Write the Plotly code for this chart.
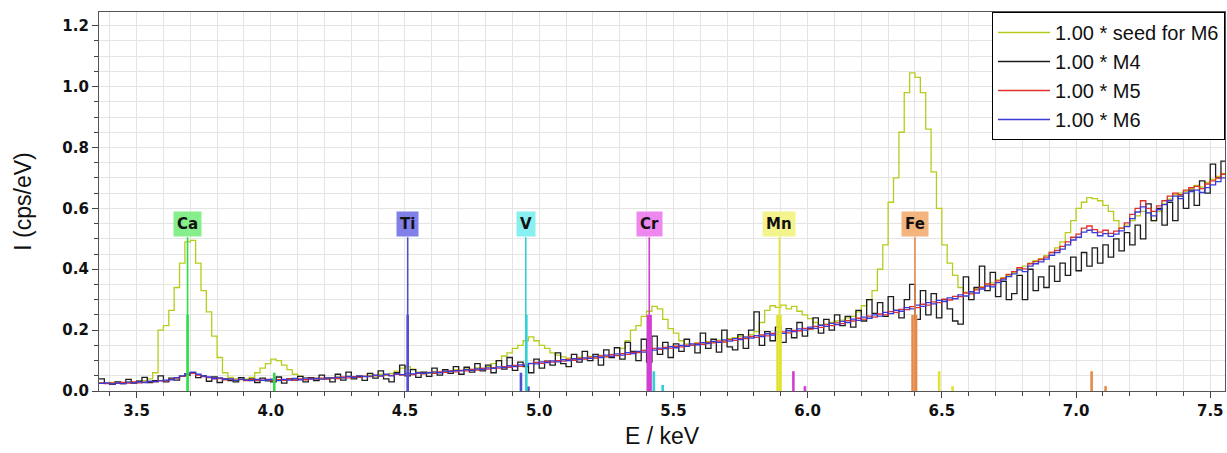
import numpy as np
import plotly.graph_objects as go

# ---------------- data ----------------
E_START = 3.36
BIN = 0.02
N_BINS = 210

seed_m6 = [
    0.026, 0.025, 0.028, 0.026, 0.027, 0.030, 0.029, 0.032, 0.034, 0.040,
    0.060, 0.200, 0.215, 0.265, 0.340, 0.420, 0.490, 0.495, 0.420, 0.330,
    0.260, 0.180, 0.110, 0.060, 0.045, 0.040, 0.037, 0.039, 0.045, 0.060,
    0.075, 0.090, 0.105, 0.100, 0.085, 0.070, 0.055, 0.048, 0.044, 0.040,
    0.042, 0.038, 0.044, 0.041, 0.046, 0.043, 0.048, 0.046, 0.050, 0.048,
    0.052, 0.049, 0.055, 0.052, 0.058, 0.065, 0.075, 0.080, 0.072, 0.062,
    0.060, 0.058, 0.064, 0.061, 0.067, 0.064, 0.070, 0.068, 0.073, 0.071,
    0.076, 0.074, 0.080, 0.090, 0.100, 0.115, 0.125, 0.140, 0.150, 0.165,
    0.178, 0.165, 0.150, 0.140, 0.125, 0.118, 0.112, 0.108, 0.104, 0.110,
    0.108, 0.114, 0.110, 0.117, 0.113, 0.120, 0.118, 0.140, 0.165, 0.200,
    0.215, 0.245, 0.262, 0.278, 0.270, 0.235, 0.205, 0.190, 0.165, 0.155,
    0.150, 0.158, 0.155, 0.162, 0.160, 0.167, 0.165, 0.172, 0.175, 0.180,
    0.178, 0.185, 0.195, 0.225, 0.265, 0.280, 0.275, 0.282, 0.270, 0.278,
    0.262, 0.250, 0.238, 0.225, 0.218, 0.220, 0.225, 0.230, 0.233, 0.240,
    0.245, 0.260, 0.280, 0.300, 0.330, 0.400, 0.480, 0.620, 0.700, 0.850,
    0.980, 1.045, 1.030, 0.980, 0.860, 0.720, 0.600, 0.480, 0.420, 0.380,
    0.340, 0.325, 0.322, 0.335, 0.342, 0.350, 0.355, 0.365, 0.372, 0.380,
    0.390, 0.402, 0.410, 0.420, 0.428, 0.435, 0.445, 0.455, 0.470, 0.490,
    0.520, 0.560, 0.600, 0.620, 0.635, 0.632, 0.625, 0.610, 0.590, 0.560,
    0.535, 0.545, 0.560, 0.575, 0.590, 0.585, 0.560, 0.590, 0.615, 0.630,
    0.645, 0.650, 0.655, 0.665, 0.675, 0.670, 0.685, 0.695, 0.705, 0.715,
]

m4 = [
    0.040, 0.025, 0.022, 0.030, 0.024, 0.038, 0.026, 0.032, 0.045, 0.028,
    0.034, 0.050, 0.030, 0.042, 0.036, 0.048, 0.052, 0.060, 0.044, 0.050,
    0.032, 0.046, 0.028, 0.040, 0.034, 0.030, 0.044, 0.036, 0.040, 0.028,
    0.042, 0.033, 0.030, 0.046, 0.026, 0.040, 0.036, 0.048, 0.030, 0.044,
    0.034, 0.052, 0.040, 0.030, 0.055, 0.036, 0.062, 0.040, 0.048, 0.035,
    0.058, 0.042, 0.066, 0.040, 0.030, 0.060, 0.085, 0.050, 0.070, 0.045,
    0.062, 0.048, 0.075, 0.052, 0.070, 0.058, 0.080, 0.055, 0.078, 0.062,
    0.090, 0.066, 0.085, 0.060, 0.100, 0.072, 0.110, 0.068, 0.095, 0.080,
    0.060, 0.105, 0.075, 0.098, 0.085, 0.125, 0.090, 0.080, 0.120, 0.095,
    0.130, 0.100, 0.120, 0.085, 0.135, 0.110, 0.142, 0.105, 0.160, 0.130,
    0.100, 0.170, 0.095, 0.180, 0.120, 0.160, 0.110, 0.155, 0.130, 0.170,
    0.150, 0.125, 0.190, 0.140, 0.170, 0.128, 0.200, 0.145, 0.135, 0.185,
    0.140, 0.200, 0.260, 0.150, 0.195, 0.165, 0.210, 0.160, 0.205, 0.175,
    0.225, 0.180, 0.205, 0.240, 0.190, 0.235, 0.200, 0.250, 0.215, 0.245,
    0.210, 0.265, 0.230, 0.300, 0.255, 0.290, 0.245, 0.310, 0.265, 0.240,
    0.300, 0.350, 0.235, 0.330, 0.250, 0.320, 0.240, 0.300, 0.270, 0.230,
    0.220, 0.375, 0.300, 0.340, 0.410, 0.330, 0.390, 0.310, 0.360, 0.300,
    0.320, 0.380, 0.300, 0.400, 0.330, 0.375, 0.340, 0.410, 0.360, 0.420,
    0.380, 0.440, 0.395, 0.455, 0.410, 0.470, 0.420, 0.480, 0.440, 0.500,
    0.460, 0.520, 0.480, 0.545, 0.500, 0.615, 0.560, 0.600, 0.545, 0.620,
    0.560, 0.640, 0.600, 0.660, 0.610, 0.690, 0.650, 0.745, 0.700, 0.755,
]

m5 = [
    0.027, 0.024, 0.026, 0.025, 0.028, 0.026, 0.030, 0.027, 0.029, 0.031,
    0.030, 0.034, 0.033, 0.038, 0.042, 0.048, 0.055, 0.058, 0.052, 0.047,
    0.044, 0.040, 0.041, 0.037, 0.039, 0.036, 0.038, 0.034, 0.037, 0.035,
    0.036, 0.038, 0.034, 0.037, 0.035, 0.039, 0.036, 0.040, 0.037, 0.041,
    0.039, 0.042, 0.040, 0.044, 0.041, 0.046, 0.043, 0.047, 0.045, 0.049,
    0.047, 0.051, 0.049, 0.053, 0.051, 0.055, 0.052, 0.057, 0.054, 0.058,
    0.056, 0.061, 0.058, 0.063, 0.061, 0.066, 0.063, 0.068, 0.066, 0.071,
    0.069, 0.074, 0.072, 0.077, 0.075, 0.080, 0.078, 0.084, 0.081, 0.088,
    0.090, 0.094, 0.091, 0.097, 0.095, 0.100, 0.098, 0.104, 0.101, 0.107,
    0.105, 0.111, 0.108, 0.115, 0.112, 0.119, 0.116, 0.123, 0.120, 0.127,
    0.126, 0.133, 0.136, 0.140, 0.137, 0.143, 0.141, 0.147, 0.145, 0.151,
    0.150, 0.156, 0.153, 0.160, 0.158, 0.164, 0.161, 0.169, 0.166, 0.173,
    0.172, 0.179, 0.176, 0.184, 0.181, 0.189, 0.186, 0.194, 0.191, 0.199,
    0.198, 0.206, 0.203, 0.212, 0.209, 0.218, 0.215, 0.224, 0.221, 0.231,
    0.230, 0.239, 0.236, 0.246, 0.243, 0.253, 0.250, 0.261, 0.258, 0.268,
    0.267, 0.277, 0.274, 0.285, 0.282, 0.293, 0.290, 0.302, 0.299, 0.311,
    0.310, 0.322, 0.319, 0.332, 0.340, 0.352, 0.349, 0.362, 0.370, 0.383,
    0.392, 0.405, 0.401, 0.418, 0.425, 0.432, 0.440, 0.455, 0.462, 0.475,
    0.490, 0.505, 0.515, 0.535, 0.542, 0.530, 0.522, 0.528, 0.518, 0.525,
    0.535, 0.552, 0.580, 0.600, 0.625, 0.600, 0.590, 0.608, 0.625, 0.640,
    0.650, 0.645, 0.660, 0.668, 0.672, 0.665, 0.680, 0.690, 0.700, 0.712,
]

m6 = [
    0.025, 0.027, 0.023, 0.026, 0.024, 0.029, 0.027, 0.030, 0.028, 0.032,
    0.031, 0.033, 0.036, 0.037, 0.044, 0.050, 0.057, 0.062, 0.055, 0.049,
    0.046, 0.041, 0.043, 0.038, 0.040, 0.035, 0.039, 0.036, 0.034, 0.038,
    0.035, 0.037, 0.039, 0.034, 0.038, 0.036, 0.041, 0.037, 0.042, 0.039,
    0.041, 0.039, 0.043, 0.042, 0.045, 0.043, 0.048, 0.045, 0.050, 0.047,
    0.049, 0.052, 0.050, 0.055, 0.050, 0.056, 0.054, 0.058, 0.056, 0.060,
    0.058, 0.060, 0.062, 0.060, 0.065, 0.064, 0.067, 0.066, 0.070, 0.068,
    0.073, 0.071, 0.076, 0.074, 0.079, 0.077, 0.083, 0.080, 0.086, 0.084,
    0.091, 0.089, 0.096, 0.093, 0.099, 0.096, 0.103, 0.100, 0.106, 0.103,
    0.109, 0.107, 0.114, 0.110, 0.118, 0.114, 0.122, 0.118, 0.126, 0.123,
    0.130, 0.128, 0.138, 0.134, 0.141, 0.139, 0.146, 0.142, 0.150, 0.147,
    0.155, 0.152, 0.159, 0.156, 0.163, 0.160, 0.168, 0.164, 0.172, 0.169,
    0.177, 0.174, 0.182, 0.179, 0.188, 0.184, 0.193, 0.189, 0.198, 0.195,
    0.204, 0.200, 0.210, 0.206, 0.216, 0.212, 0.222, 0.218, 0.229, 0.225,
    0.236, 0.232, 0.243, 0.239, 0.250, 0.246, 0.258, 0.254, 0.265, 0.262,
    0.274, 0.270, 0.282, 0.278, 0.290, 0.286, 0.298, 0.294, 0.306, 0.303,
    0.316, 0.312, 0.326, 0.322, 0.335, 0.345, 0.342, 0.356, 0.365, 0.376,
    0.385, 0.398, 0.392, 0.410, 0.418, 0.424, 0.433, 0.446, 0.455, 0.466,
    0.480, 0.496, 0.505, 0.522, 0.528, 0.520, 0.510, 0.517, 0.508, 0.515,
    0.526, 0.540, 0.566, 0.588, 0.605, 0.585, 0.575, 0.596, 0.612, 0.626,
    0.640, 0.632, 0.650, 0.655, 0.660, 0.652, 0.668, 0.677, 0.688, 0.700,
]

series_names = ["1.00 * seed for M6", "1.00 * M4", "1.00 * M5", "1.00 * M6"]
series_values = [seed_m6, m4, m5, m6]
series_colors = ["#b9cc1e", "#1e1e1e", "#e0302c", "#3a3ad8"]

# element label markers (K-alpha energy)
elements = ["Ca", "Ti", "V", "Cr", "Mn", "Fe"]
element_energy = [3.69, 4.51, 4.95, 5.41, 5.895, 6.40]
element_line_color = ["#2ee046", "#4f4fd0", "#30d0d8", "#d23ed2", "#e2e232", "#e48a48"]
element_label_color = ["#86ee8a", "#8080e8", "#88f0f0", "#ee88ee", "#f4f48c", "#f4b47e"]
label_height = 0.55
marker_top = 0.505

# emission lines: energy, intensity, element index
line_energy = [3.69, 4.013, 4.51, 4.932, 4.96, 4.952, 5.427, 5.46,
               5.405, 5.415, 5.947, 5.99, 5.888, 5.899, 6.49, 6.54,
               6.391, 6.404, 7.058, 7.11]
line_height = [0.25, 0.06, 0.25, 0.06, 0.015, 0.25, 0.065, 0.02,
               0.25, 0.25, 0.065, 0.016, 0.25, 0.25, 0.065, 0.016,
               0.25, 0.25, 0.065, 0.016]
line_element = [0, 0, 1, 1, 1, 2, 2, 2,
                3, 3, 3, 3, 4, 4, 4, 4,
                5, 5, 5, 5]

# ---------------- figure ----------------
edges = np.round(E_START + BIN * np.arange(N_BINS + 1), 3)

fig = go.Figure()
for name, vals, col in zip(series_names, series_values, series_colors):
    yv = list(vals) + [vals[-1]]
    fig.add_trace(go.Scatter(
        x=edges, y=yv, mode="lines", name=name,
        line=dict(color=col, width=1.3, shape="hv"),
    ))

# thin marker lines up to label
for i, e in enumerate(element_energy):
    fig.add_trace(go.Scatter(
        x=[e, e], y=[0, marker_top], mode="lines", showlegend=False,
        line=dict(color=element_line_color[i], width=1.6), hoverinfo="skip",
    ))

# emission lines (thicker)
for e, h, k in zip(line_energy, line_height, line_element):
    fig.add_trace(go.Scatter(
        x=[e, e], y=[0, h], mode="lines", showlegend=False,
        line=dict(color=element_line_color[k], width=2.6), hoverinfo="skip",
    ))

for i, (el, e) in enumerate(zip(elements, element_energy)):
    fig.add_annotation(
        x=e, y=label_height, text="<b>%s</b>" % el, showarrow=False,
        font=dict(family="DejaVu Sans", size=15, color="#111111"),
        bgcolor=element_label_color[i], borderpad=3,
    )

grid_col = "#e4e4e4"
fig.update_layout(
    width=1227, height=453,
    margin=dict(l=99, r=2, t=12, b=62),
    plot_bgcolor="white", paper_bgcolor="white",
    showlegend=True,
    legend=dict(
        x=1, y=1, xanchor="right", yanchor="top",
        bgcolor="white", bordercolor="#000000", borderwidth=1,
        font=dict(family="Liberation Sans", size=20, color="#111111"),
        tracegroupgap=0, itemwidth=52,
    ),
    xaxis=dict(
        range=[3.36, 7.555], dtick=0.5, tick0=3.5,
        showgrid=True, gridcolor=grid_col, gridwidth=1,
        ticks="outside", ticklen=6, tickcolor="#444",
        showline=True, linecolor="#555", linewidth=1.2, mirror=True,
        tickfont=dict(family="DejaVu Sans", size=15, color="#111", weight="bold"),
        tickformat=".1f",
        minor=dict(dtick=0.1, tick0=3.5, showgrid=True, gridcolor=grid_col,
                   ticks="outside", ticklen=4, tickcolor="#444"),
        title=dict(text="E / keV", font=dict(family="Liberation Sans", size=23, color="#111"),
                   standoff=8),
        zeroline=False,
    ),
    yaxis=dict(
        range=[0, 1.245], dtick=0.2, tick0=0,
        showgrid=True, gridcolor=grid_col, gridwidth=1,
        ticks="outside", ticklen=6, tickcolor="#444",
        showline=True, linecolor="#555", linewidth=1.2, mirror=True,
        tickfont=dict(family="DejaVu Sans", size=15, color="#111", weight="bold"),
        tickformat=".1f",
        minor=dict(dtick=0.05, tick0=0, showgrid=True, gridcolor=grid_col,
                   ticks="outside", ticklen=4, tickcolor="#444"),
        title=dict(text="I (cps/eV)", font=dict(family="Liberation Sans", size=23, color="#111"),
                   standoff=24),
        zeroline=False,
    ),
)

fig.write_html("out.html", config={"displayModeBar": False},
               post_script="document.body.style.margin='0px';")
